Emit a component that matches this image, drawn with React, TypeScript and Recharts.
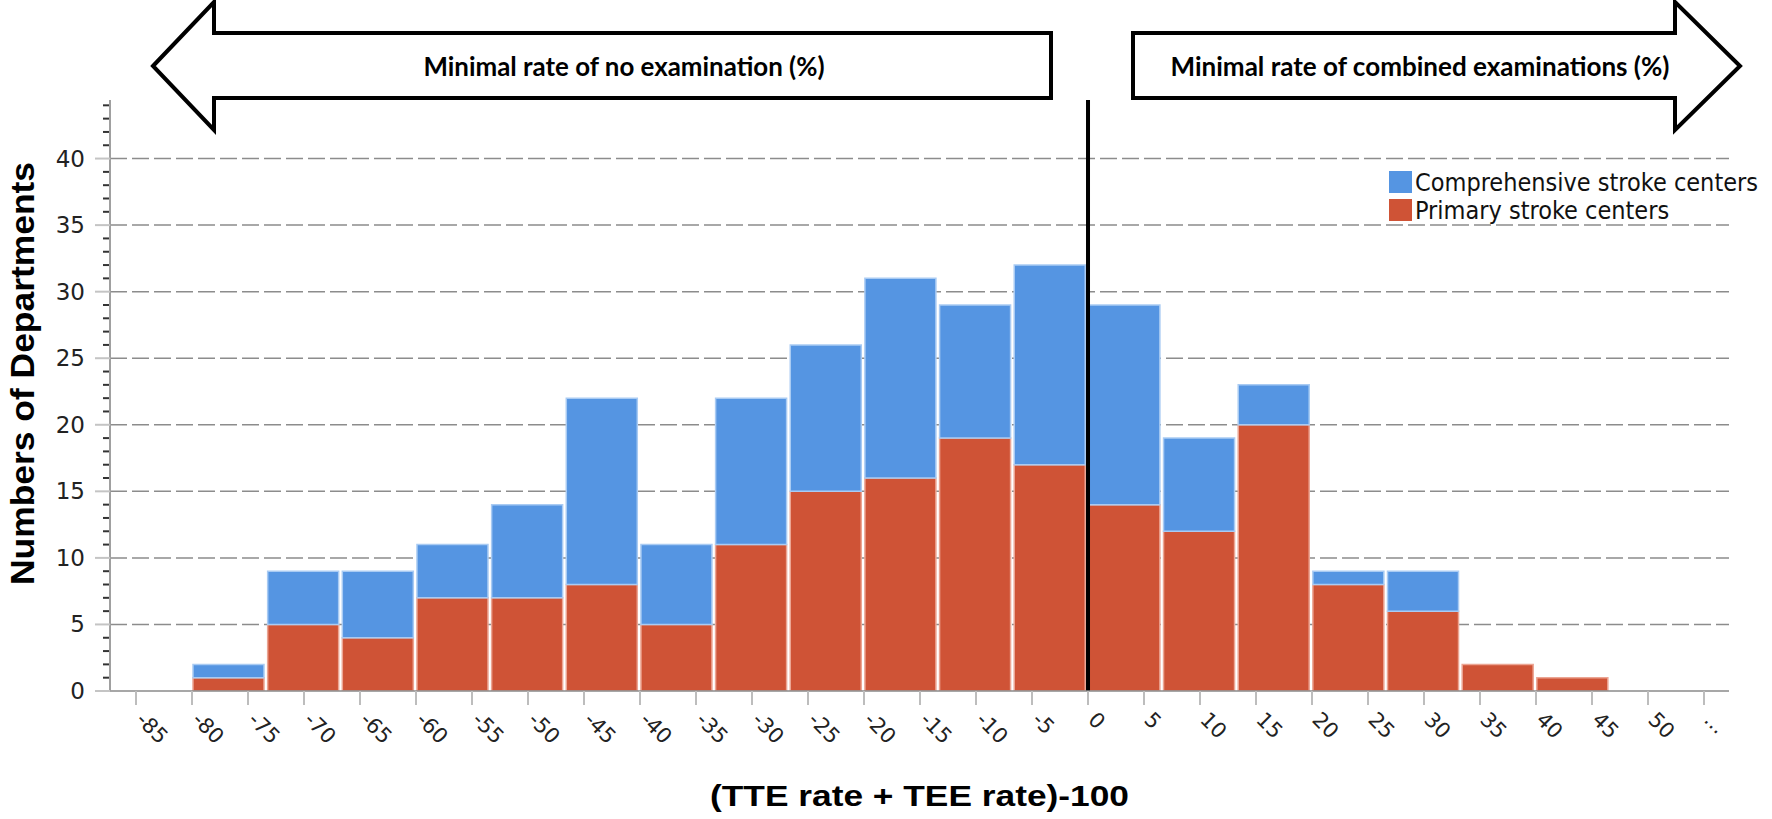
import {
  Bar,
  BarChart,
  CartesianGrid,
  Legend,
  ReferenceLine,
  XAxis,
  YAxis,
} from "recharts";

// histogram bins (left of the 0 line: no examination, right: combined examinations)
const bins = [
  "-60", "-55", "-50", "-45", "-40", "-35", "-30", "-25", "-20", "-15",
  "-10", "-5", "0", "5", "10", "15", "20", "25", "30",
];
const primary = [1, 5, 4, 7, 7, 8, 5, 11, 15, 16, 19, 17, 14, 12, 20, 8, 6, 2, 1];
const comprehensive = [1, 4, 5, 4, 7, 14, 6, 11, 11, 15, 10, 15, 15, 7, 3, 1, 3, 0, 0];

const xTicks = [
  -85, -80, -75, -70, -65, -60, -55, -50, -45, -40, -35, -30, -25, -20, -15,
  -10, -5, 0, 5, 10, 15, 20, 25, 30, 35, 40, 45, 50, 55,
];
const xTickLabels = [
  "-85", "-80", "-75", "-70", "-65", "-60", "-55", "-50", "-45", "-40", "-35",
  "-30", "-25", "-20", "-15", "-10", "-5", "0", "5", "10", "15", "20", "25",
  "30", "35", "40", "45", "50", "...",
];
const yTicks = [
  0, 1, 2, 3, 4, 5, 6, 7, 8, 9, 10, 11, 12, 13, 14, 15, 16, 17, 18, 19, 20,
  21, 22, 23, 24, 25, 26, 27, 28, 29, 30, 31, 32, 33, 34, 35, 36, 37, 38, 39,
  40, 41, 42, 43, 44,
];
const gridValues = [5, 10, 15, 20, 25, 30, 35, 40];

const series = [
  { key: "comprehensive", name: "Comprehensive stroke centers", color: "#5595e2", edge: "#a9cbf3" },
  { key: "primary", name: "Primary stroke centers", color: "#cf5336", edge: "#eca593" },
];

const data = bins.map((bin, i) => ({
  bin,
  start: Number(bin),
  primary: primary[i],
  comprehensive: comprehensive[i],
}));

const tickFont = "'DejaVu Sans', sans-serif";
const titleFont = "'Liberation Sans', Arial, sans-serif";

function XTick(props: any) {
  const { x, y, payload } = props;
  const i = xTicks.indexOf(payload.value);
  const tx = x - 1;
  const ty = y + 14;
  return (
    <text
      x={tx}
      y={ty}
      transform={`rotate(45, ${tx}, ${ty})`}
      textAnchor="start"
      fontFamily={tickFont}
      fontSize={21}
      fill="#222"
    >
      {xTickLabels[i]}
    </text>
  );
}

function YTick(props: any) {
  const { x, y, payload } = props;
  const major = payload.value % 5 === 0;
  if (!major) {
    return <line x1={x - 7} x2={x - 1} y1={y} y2={y} stroke="#333" strokeWidth={2} />;
  }
  return (
    <g>
      <line x1={x - 15} x2={x} y1={y} y2={y} stroke="#c4c4c4" strokeWidth={2} />
      <text
        x={x - 25}
        y={y}
        dy={8}
        textAnchor="end"
        fontFamily={tickFont}
        fontSize={23}
        fill="#222"
      >
        {payload.value}
      </text>
    </g>
  );
}

function LegendBox() {
  return (
    <div style={{ fontFamily: "'DejaVu Sans Condensed', 'DejaVu Sans', sans-serif", fontSize: 25, color: "#111" }}>
      {series.map((s) => (
        <div key={s.key} style={{ display: "flex", alignItems: "center", height: 28 }}>
          <span style={{ width: 23, height: 22, background: s.color, marginRight: 3, flexShrink: 0 }} />
          <span style={{ whiteSpace: "nowrap" }}>{s.name}</span>
        </div>
      ))}
    </div>
  );
}

function Arrows() {
  return (
    <svg
      width={1772}
      height={819}
      style={{ position: "absolute", left: 0, top: 0, pointerEvents: "none" }}
    >
      <polygon
        points="153,66 214,2 214,33 1051,33 1051,98 214,98 214,130"
        fill="#fff"
        stroke="#000"
        strokeWidth={4}
      />
      <polygon
        points="1133,33 1675,33 1675,2 1740,66 1675,130 1675,98 1133,98"
        fill="#fff"
        stroke="#000"
        strokeWidth={4}
      />
      <text
        x={624}
        y={76}
        textAnchor="middle"
        fontFamily="Lato, 'Open Sans', sans-serif"
        fontWeight={700}
        fontSize={26}
        textLength={401}
        lengthAdjust="spacingAndGlyphs"
        fill="#000"
      >
        Minimal rate of no examination (%)
      </text>
      <text
        x={1420}
        y={76}
        textAnchor="middle"
        fontFamily="Lato, 'Open Sans', sans-serif"
        fontWeight={700}
        fontSize={26}
        textLength={499}
        lengthAdjust="spacingAndGlyphs"
        fill="#000"
      >
        Minimal rate of combined examinations (%)
      </text>
    </svg>
  );
}

export default function App() {
  return (
    <div style={{ position: "absolute", left: 0, top: 0, width: 1772, height: 819, background: "#fff" }}>
      <BarChart
        width={1772}
        height={819}
        data={data}
        margin={{ top: 100, right: 43, left: 0, bottom: 0 }}
        barCategoryGap={2}
      >
        <CartesianGrid
          xAxisId="ticks"
          yAxisId="y"
          vertical={false}
          horizontalValues={gridValues}
          stroke="#8c8c8c"
          strokeWidth={1.5}
          strokeDasharray="17 5"
        />
        <XAxis
          xAxisId="bins"
          dataKey="bin"
          hide
          height={0}
          padding={{ left: 81, right: 119.5 }}
        />
        <XAxis
          xAxisId="ticks"
          dataKey="start"
          type="number"
          domain={[-87.32, 57.23]}
          allowDataOverflow
          ticks={xTicks}
          interval={0}
          height={128}
          tickSize={14}
          tickLine={{ stroke: "#bdbdbd", strokeWidth: 2 }}
          axisLine={{ stroke: "#8a8a8a", strokeWidth: 1.5 }}
          tick={<XTick />}
          label={{
            content: (p: any) => {
              const vb = p.viewBox;
              return (
                <text
                  x={vb.x + vb.width / 2}
                  y={vb.y + 115}
                  textAnchor="middle"
                  fontFamily={titleFont}
                  fontWeight={700}
                  fontSize={29}
                  textLength={419}
                  lengthAdjust="spacingAndGlyphs"
                  fill="#000"
                >
                  (TTE rate + TEE rate)-100
                </text>
              );
            },
          }}
        />
        <YAxis
          yAxisId="y"
          domain={[0, 44.4]}
          allowDataOverflow
          ticks={yTicks}
          interval={0}
          width={110}
          tickSize={0}
          tickMargin={0}
          tickLine={false}
          axisLine={{ stroke: "#a0a0a0", strokeWidth: 2 }}
          tick={<YTick />}
          label={{
            content: (p: any) => {
              const vb = p.viewBox;
              const cx = vb.x + 34;
              const cy = vb.y + vb.height / 2 - 22;
              return (
                <text
                  x={cx}
                  y={cy}
                  transform={`rotate(-90, ${cx}, ${cy})`}
                  textAnchor="middle"
                  fontFamily={titleFont}
                  fontWeight={700}
                  fontSize={34}
                  textLength={423}
                  lengthAdjust="spacingAndGlyphs"
                  fill="#000"
                >
                  Numbers of Departments
                </text>
              );
            },
          }}
        />
        <Bar
          dataKey="primary"
          name="Primary stroke centers"
          stackId="a"
          xAxisId="bins"
          yAxisId="y"
          fill="#cf5336"
          stroke="#eca593"
          strokeWidth={1.5}
          isAnimationActive={false}
        />
        <Bar
          dataKey="comprehensive"
          name="Comprehensive stroke centers"
          stackId="a"
          xAxisId="bins"
          yAxisId="y"
          fill="#5595e2"
          stroke="#a9cbf3"
          strokeWidth={1.5}
          isAnimationActive={false}
        />
        <ReferenceLine x={0} xAxisId="ticks" yAxisId="y" stroke="#000" strokeWidth={4} />
        <Legend
          layout="vertical"
          align="center"
          verticalAlign="middle"
          content={<LegendBox />}
          wrapperStyle={{ left: 1389, top: 168, width: 383, height: 56 }}
        />
      </BarChart>
      <Arrows />
    </div>
  );
}
